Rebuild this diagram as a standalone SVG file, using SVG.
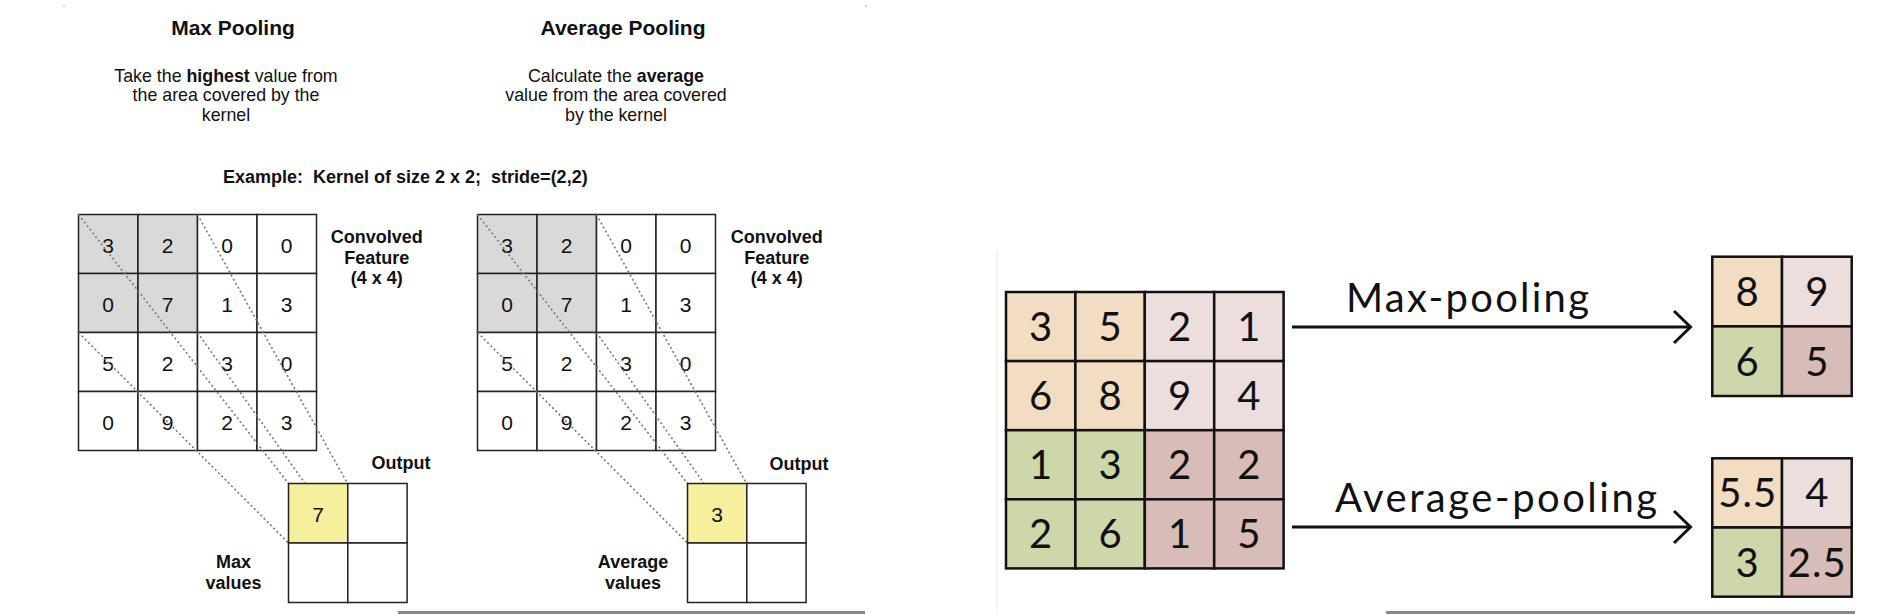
<svg xmlns="http://www.w3.org/2000/svg" width="1898" height="614" viewBox="0 0 1898 614">
<style>
.h{font-family:"Liberation Sans",Arial,Helvetica,sans-serif;fill:#111}
.title{font-size:21px;font-weight:bold;text-anchor:middle}
.desc{font-size:17.8px;text-anchor:middle}
.lab{font-size:18px;font-weight:bold;text-anchor:middle}
.num{font-size:21px;text-anchor:middle}
.cell{fill:#fff;stroke:#222;stroke-width:1.5}
.gray{fill:#d9d9d9}
.yel{fill:#f6ef9c}
.dot{stroke:#777;stroke-width:1.6;stroke-dasharray:2 2.6;fill:none}
.c{font-family:Lato,"Open Sans",sans-serif;font-size:40px;text-anchor:middle;fill:#111}
.pc{stroke:#111;stroke-width:2.5}
.pe{fill:#f2dcc2}.lp{fill:#ecdedd}.gr{fill:#cdd7a9}.dp{fill:#d8bcb7}
.arr{stroke:#111;stroke-width:3;fill:none;stroke-linejoin:miter}
</style>
<rect width="1898" height="614" fill="#fff"/>
<!-- artifacts -->
<circle cx="64" cy="6" r="0.8" fill="#aaa"/>
<circle cx="866" cy="6" r="0.8" fill="#aaa"/>
<line x1="997" y1="250" x2="997" y2="614" stroke="#ececec" stroke-width="1"/>
<rect x="398" y="611" width="467" height="3" fill="#888"/>
<rect x="1386" y="611" width="469" height="3" fill="#888"/>

<!-- headings -->
<g id="max-heading" class="h">
<text class="title" x="233" y="35">Max Pooling</text>
<text class="desc" x="226" y="81.5">Take the <tspan font-weight="bold">highest</tspan> value from</text>
<text class="desc" x="226" y="101">the area covered by the</text>
<text class="desc" x="226" y="120.5">kernel</text>
</g>
<g id="avg-heading" class="h">
<text class="title" x="623" y="35">Average Pooling</text>
<text class="desc" x="616" y="81.5">Calculate the <tspan font-weight="bold">average</tspan></text>
<text class="desc" x="616" y="101">value from the area covered</text>
<text class="desc" x="616" y="120.5">by the kernel</text>
</g>
<g id="example" class="h">
<text x="223" y="182.5" font-size="18" font-weight="bold" xml:space="preserve">Example:  Kernel of size 2 x 2;  stride=(2,2)</text>
</g>

<!-- left: max pooling grid -->
<g id="max-input" class="h">
<rect class="cell gray" x="78.5" y="214.5" width="59.5" height="59"/>
<rect class="cell gray" x="138" y="214.5" width="59.5" height="59"/>
<rect class="cell" x="197.5" y="214.5" width="59.5" height="59"/>
<rect class="cell" x="257" y="214.5" width="59.5" height="59"/>
<rect class="cell gray" x="78.5" y="273.5" width="59.5" height="59"/>
<rect class="cell gray" x="138" y="273.5" width="59.5" height="59"/>
<rect class="cell" x="197.5" y="273.5" width="59.5" height="59"/>
<rect class="cell" x="257" y="273.5" width="59.5" height="59"/>
<rect class="cell" x="78.5" y="332.5" width="59.5" height="59"/>
<rect class="cell" x="138" y="332.5" width="59.5" height="59"/>
<rect class="cell" x="197.5" y="332.5" width="59.5" height="59"/>
<rect class="cell" x="257" y="332.5" width="59.5" height="59"/>
<rect class="cell" x="78.5" y="391.5" width="59.5" height="59"/>
<rect class="cell" x="138" y="391.5" width="59.5" height="59"/>
<rect class="cell" x="197.5" y="391.5" width="59.5" height="59"/>
<rect class="cell" x="257" y="391.5" width="59.5" height="59"/>
<text class="num" x="108.2" y="252.5">3</text><text class="num" x="167.7" y="252.5">2</text><text class="num" x="227.2" y="252.5">0</text><text class="num" x="286.7" y="252.5">0</text>
<text class="num" x="108.2" y="311.5">0</text><text class="num" x="167.7" y="311.5">7</text><text class="num" x="227.2" y="311.5">1</text><text class="num" x="286.7" y="311.5">3</text>
<text class="num" x="108.2" y="370.5">5</text><text class="num" x="167.7" y="370.5">2</text><text class="num" x="227.2" y="370.5">3</text><text class="num" x="286.7" y="370.5">0</text>
<text class="num" x="108.2" y="429.5">0</text><text class="num" x="167.7" y="429.5">9</text><text class="num" x="227.2" y="429.5">2</text><text class="num" x="286.7" y="429.5">3</text>
<text class="lab" x="376.7" y="243">Convolved</text>
<text class="lab" x="376.7" y="263.5">Feature</text>
<text class="lab" x="376.7" y="284">(4 x 4)</text>
</g>
<!-- right: average pooling grid -->
<g id="avg-input" class="h">
<rect class="cell gray" x="477.5" y="214.5" width="59.5" height="59"/>
<rect class="cell gray" x="537" y="214.5" width="59.5" height="59"/>
<rect class="cell" x="596.5" y="214.5" width="59.5" height="59"/>
<rect class="cell" x="656" y="214.5" width="59.5" height="59"/>
<rect class="cell gray" x="477.5" y="273.5" width="59.5" height="59"/>
<rect class="cell gray" x="537" y="273.5" width="59.5" height="59"/>
<rect class="cell" x="596.5" y="273.5" width="59.5" height="59"/>
<rect class="cell" x="656" y="273.5" width="59.5" height="59"/>
<rect class="cell" x="477.5" y="332.5" width="59.5" height="59"/>
<rect class="cell" x="537" y="332.5" width="59.5" height="59"/>
<rect class="cell" x="596.5" y="332.5" width="59.5" height="59"/>
<rect class="cell" x="656" y="332.5" width="59.5" height="59"/>
<rect class="cell" x="477.5" y="391.5" width="59.5" height="59"/>
<rect class="cell" x="537" y="391.5" width="59.5" height="59"/>
<rect class="cell" x="596.5" y="391.5" width="59.5" height="59"/>
<rect class="cell" x="656" y="391.5" width="59.5" height="59"/>
<text class="num" x="507.2" y="252.5">3</text><text class="num" x="566.7" y="252.5">2</text><text class="num" x="626.2" y="252.5">0</text><text class="num" x="685.7" y="252.5">0</text>
<text class="num" x="507.2" y="311.5">0</text><text class="num" x="566.7" y="311.5">7</text><text class="num" x="626.2" y="311.5">1</text><text class="num" x="685.7" y="311.5">3</text>
<text class="num" x="507.2" y="370.5">5</text><text class="num" x="566.7" y="370.5">2</text><text class="num" x="626.2" y="370.5">3</text><text class="num" x="685.7" y="370.5">0</text>
<text class="num" x="507.2" y="429.5">0</text><text class="num" x="566.7" y="429.5">9</text><text class="num" x="626.2" y="429.5">2</text><text class="num" x="685.7" y="429.5">3</text>
<text class="lab" x="776.7" y="243">Convolved</text>
<text class="lab" x="776.7" y="263.5">Feature</text>
<text class="lab" x="776.7" y="284">(4 x 4)</text>
</g>

<!-- connectors -->
<g id="connectors">
<line class="dot" x1="78.5" y1="214.5" x2="288.5" y2="483.5"/>
<line class="dot" x1="197.5" y1="214.5" x2="347.5" y2="483.5"/>
<line class="dot" x1="78.5" y1="332.5" x2="288.5" y2="543"/>
<line class="dot" x1="197.5" y1="332.5" x2="347.5" y2="543"/>
<line class="dot" x1="477.5" y1="214.5" x2="687.5" y2="483.5"/>
<line class="dot" x1="596.5" y1="214.5" x2="746.5" y2="483.5"/>
<line class="dot" x1="477.5" y1="332.5" x2="687.5" y2="543"/>
<line class="dot" x1="596.5" y1="332.5" x2="746.5" y2="543"/>
<line class="arr" x1="1292" y1="327" x2="1690" y2="327"/>
<polyline class="arr" points="1674,311 1690.5,327 1674,343"/>
<line class="arr" x1="1292" y1="527" x2="1690" y2="527"/>
<polyline class="arr" points="1674,511 1690.5,527 1674,543"/>
</g>

<!-- outputs left -->
<g id="max-output" class="h">
<rect class="cell yel" x="288.5" y="483.5" width="59.3" height="59.5"/>
<rect class="cell" x="347.8" y="483.5" width="59.3" height="59.5"/>
<rect class="cell" x="288.5" y="543" width="59.3" height="59.5"/>
<rect class="cell" x="347.8" y="543" width="59.3" height="59.5"/>
<text class="num" x="318.2" y="521.5">7</text>
<text class="lab" x="401" y="469">Output</text>
<text class="lab" x="233.5" y="568">Max</text>
<text class="lab" x="233.5" y="589">values</text>
</g>
<g id="avg-output" class="h">
<rect class="cell yel" x="687.5" y="483.5" width="59.3" height="59.5"/>
<rect class="cell" x="746.8" y="483.5" width="59.3" height="59.5"/>
<rect class="cell" x="687.5" y="543" width="59.3" height="59.5"/>
<rect class="cell" x="746.8" y="543" width="59.3" height="59.5"/>
<text class="num" x="717.2" y="521.5">3</text>
<text class="lab" x="799" y="470">Output</text>
<text class="lab" x="633" y="568">Average</text>
<text class="lab" x="633" y="589">values</text>
</g>

<!-- right panel -->
<g id="input-4x4">
<rect class="pc pe" x="1006" y="292" width="69.4" height="69.1"/>
<rect class="pc pe" x="1075.4" y="292" width="69.4" height="69.1"/>
<rect class="pc lp" x="1144.8" y="292" width="69.4" height="69.1"/>
<rect class="pc lp" x="1214.2" y="292" width="69.4" height="69.1"/>
<rect class="pc pe" x="1006" y="361.1" width="69.4" height="69.1"/>
<rect class="pc pe" x="1075.4" y="361.1" width="69.4" height="69.1"/>
<rect class="pc lp" x="1144.8" y="361.1" width="69.4" height="69.1"/>
<rect class="pc lp" x="1214.2" y="361.1" width="69.4" height="69.1"/>
<rect class="pc gr" x="1006" y="430.2" width="69.4" height="69.1"/>
<rect class="pc gr" x="1075.4" y="430.2" width="69.4" height="69.1"/>
<rect class="pc dp" x="1144.8" y="430.2" width="69.4" height="69.1"/>
<rect class="pc dp" x="1214.2" y="430.2" width="69.4" height="69.1"/>
<rect class="pc gr" x="1006" y="499.3" width="69.4" height="69.1"/>
<rect class="pc gr" x="1075.4" y="499.3" width="69.4" height="69.1"/>
<rect class="pc dp" x="1144.8" y="499.3" width="69.4" height="69.1"/>
<rect class="pc dp" x="1214.2" y="499.3" width="69.4" height="69.1"/>
<text class="c" x="1040.7" y="341">3</text><text class="c" x="1110.1" y="341">5</text><text class="c" x="1179.5" y="341">2</text><text class="c" x="1248.9" y="341">1</text>
<text class="c" x="1040.7" y="410.1">6</text><text class="c" x="1110.1" y="410.1">8</text><text class="c" x="1179.5" y="410.1">9</text><text class="c" x="1248.9" y="410.1">4</text>
<text class="c" x="1040.7" y="479.2">1</text><text class="c" x="1110.1" y="479.2">3</text><text class="c" x="1179.5" y="479.2">2</text><text class="c" x="1248.9" y="479.2">2</text>
<text class="c" x="1040.7" y="548.3">2</text><text class="c" x="1110.1" y="548.3">6</text><text class="c" x="1179.5" y="548.3">1</text><text class="c" x="1248.9" y="548.3">5</text>
</g>
<g id="label-max">
<text class="c" x="1346" y="312" text-anchor="start" style="text-anchor:start" textLength="243">Max-pooling</text>
</g>
<g id="label-avg">
<text class="c" x="1335" y="512" style="text-anchor:start" textLength="322">Average-pooling</text>
</g>
<g id="max-result">
<rect class="pc pe" x="1712.3" y="256.7" width="69.7" height="69.7"/>
<rect class="pc lp" x="1782" y="256.7" width="69.7" height="69.7"/>
<rect class="pc gr" x="1712.3" y="326.4" width="69.7" height="69.6"/>
<rect class="pc dp" x="1782" y="326.4" width="69.7" height="69.6"/>
<text class="c" x="1747.2" y="306">8</text><text class="c" x="1816.8" y="306">9</text>
<text class="c" x="1747.2" y="375.7">6</text><text class="c" x="1816.8" y="375.7">5</text>
</g>
<g id="avg-result">
<rect class="pc pe" x="1712.3" y="458.3" width="69.7" height="69.2"/>
<rect class="pc lp" x="1782" y="458.3" width="69.7" height="69.2"/>
<rect class="pc gr" x="1712.3" y="527.5" width="69.7" height="69.2"/>
<rect class="pc dp" x="1782" y="527.5" width="69.7" height="69.2"/>
<text class="c" x="1747.2" y="507.4" textLength="58">5.5</text><text class="c" x="1816.8" y="507.4">4</text>
<text class="c" x="1747.2" y="576.6">3</text><text class="c" x="1816.8" y="576.6" textLength="58">2.5</text>
</g>
</svg>
